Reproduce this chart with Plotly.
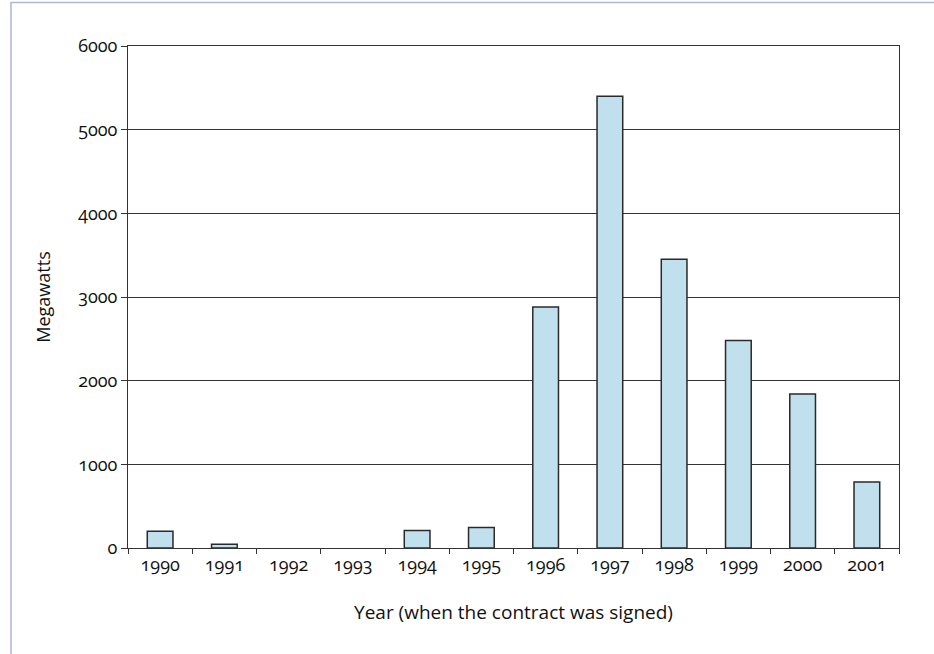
import plotly.graph_objects as go

years = ["1990", "1991", "1992", "1993", "1994", "1995", "1996", "1997", "1998", "1999", "2000", "2001"]
megawatts = [200, 45, 0, 0, 210, 245, 2880, 5400, 3450, 2480, 1840, 790]
y_ticks = [0, 1000, 2000, 3000, 4000, 5000, 6000]

FONT = "Open Sans"

fig = go.Figure()
fig.add_trace(go.Bar(
    x=years, y=megawatts,
    marker=dict(color="#c0e0ee",
                line=dict(color="#2a2a2a", width=[1.5 if v > 0 else 0 for v in megawatts])),
    width=0.4,
))

fig.update_layout(
    width=934, height=654,
    margin=dict(l=128, r=35, t=46, b=106),
    paper_bgcolor="white", plot_bgcolor="white",
    showlegend=False,
    font=dict(family=FONT, size=18, color="#111"),
    xaxis=dict(
        type="category", showline=True, mirror=True, linecolor="#333", linewidth=1,
        ticks="outside", tickson="boundaries", ticklen=5, tickcolor="#333",
        showgrid=False, tickfont=dict(size=18),
        title=dict(text="Year (when the contract was signed)", font=dict(size=19), standoff=31),
    ),
    yaxis=dict(
        range=[0, 6000], tickvals=y_ticks, showline=True, mirror=True,
        linecolor="#333", linewidth=1, ticks="outside", ticklen=6, tickcolor="#333",
        showgrid=True, gridcolor="#333", gridwidth=1, zeroline=False,
        tickfont=dict(size=18),
        title=dict(text="Megawatts", font=dict(size=18), standoff=20),
    ),
    shapes=[dict(type="rect", xref="paper", yref="paper",
                 x0=(11 - 128) / 771, x1=(945 - 128) / 771,
                 y0=-(665 - 548) / 502, y1=1 + (46 - 2.5) / 502,
                 line=dict(color="#a9b8d8", width=1.5), layer="below")],
)

post = """
document.body.style.margin = '0';
document.body.style.overflow = 'hidden';
document.querySelectorAll('.xtick text, .ytick text').forEach(function(t){
  t.style.fontFeatureSettings = '"onum" 1';
  t.style.fontVariantNumeric = 'oldstyle-nums';
});
"""
fig.write_html("out.html", post_script=post, config={"displayModeBar": False})
